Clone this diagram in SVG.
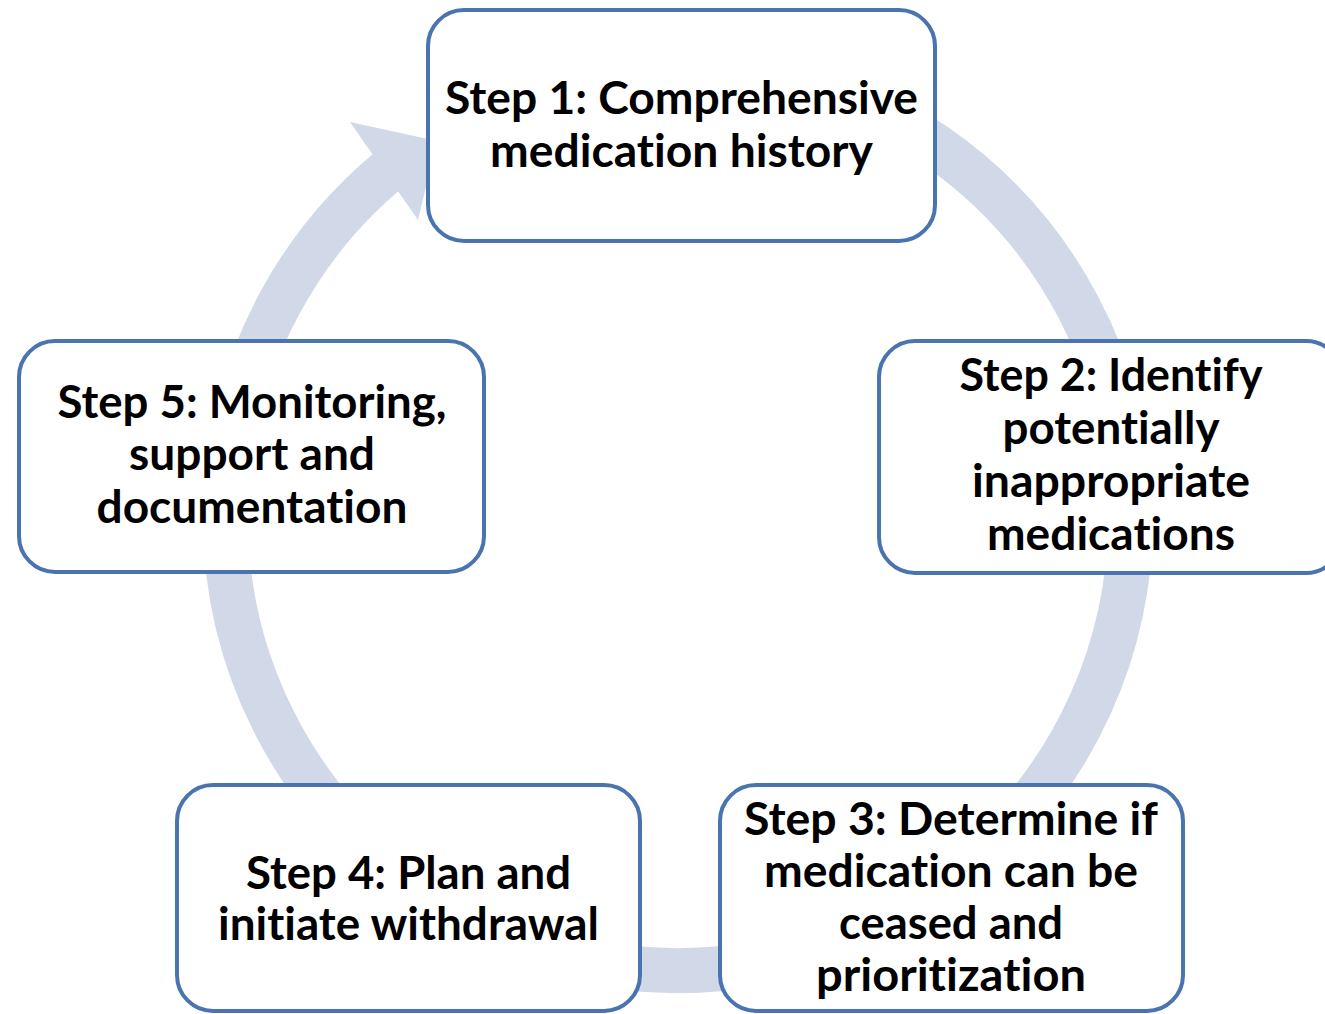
<svg xmlns="http://www.w3.org/2000/svg" width="1325" height="1014" viewBox="0 0 1325 1014">
<style>
.box{fill:#ffffff;stroke:#4a74b0;stroke-width:4}
.lbl{font-family:Lato,"Open Sans","Liberation Sans",sans-serif;font-weight:700;font-size:46px;fill:#000000;text-anchor:middle;font-variant-ligatures:none;font-feature-settings:"liga" 0}
.ring{fill:none;stroke:#d1d9e8;stroke-width:45}
.head{fill:#d1d9e8}
</style>
<rect width="1325" height="1014" fill="#ffffff"/>
<g id="connectors">
<path class="ring" d="M 756.6 72.4 A 452.5 452.5 0 1 1 405.7 156.6"/>
<polygon class="head" points="350,122 437,141 418,220"/>
</g>
<g id="step1">
<rect class="box" x="428" y="10" width="507" height="231" rx="36"/>
<text class="lbl" x="681.5" y="114" textLength="473" lengthAdjust="spacingAndGlyphs">Step 1: Comprehensive</text>
<text class="lbl" x="681.5" y="167" textLength="383" lengthAdjust="spacingAndGlyphs">medication history</text>
</g>
<g id="step2">
<rect class="box" x="879" y="341" width="463" height="232" rx="36"/>
<text class="lbl" x="1111" y="391" textLength="303" lengthAdjust="spacingAndGlyphs">Step 2: Identify</text>
<text class="lbl" x="1111" y="444" textLength="217" lengthAdjust="spacingAndGlyphs">potentially</text>
<text class="lbl" x="1111" y="497" textLength="278" lengthAdjust="spacingAndGlyphs">inappropriate</text>
<text class="lbl" x="1111" y="550" textLength="248" lengthAdjust="spacingAndGlyphs">medications</text>
</g>
<g id="step3">
<rect class="box" x="720" y="785" width="463" height="226" rx="36"/>
<text class="lbl" x="951" y="835" textLength="414" lengthAdjust="spacingAndGlyphs">Step 3: Determine if</text>
<text class="lbl" x="951" y="887" textLength="374" lengthAdjust="spacingAndGlyphs">medication can be</text>
<text class="lbl" x="951" y="939" textLength="224" lengthAdjust="spacingAndGlyphs">ceased and</text>
<text class="lbl" x="951" y="991" textLength="270" lengthAdjust="spacingAndGlyphs">prioritization</text>
</g>
<g id="step4">
<rect class="box" x="177" y="785" width="463" height="226" rx="36"/>
<text class="lbl" x="408.5" y="889" textLength="325" lengthAdjust="spacingAndGlyphs">Step 4: Plan and</text>
<text class="lbl" x="408.5" y="940" textLength="381" lengthAdjust="spacingAndGlyphs">initiate withdrawal</text>
</g>
<g id="step5">
<rect class="box" x="19" y="341" width="465" height="231" rx="36"/>
<text class="lbl" x="252" y="418" textLength="389" lengthAdjust="spacingAndGlyphs">Step 5: Monitoring,</text>
<text class="lbl" x="252" y="470" textLength="246" lengthAdjust="spacingAndGlyphs">support and</text>
<text class="lbl" x="252" y="523" textLength="311" lengthAdjust="spacingAndGlyphs">documentation</text>
</g>
</svg>
